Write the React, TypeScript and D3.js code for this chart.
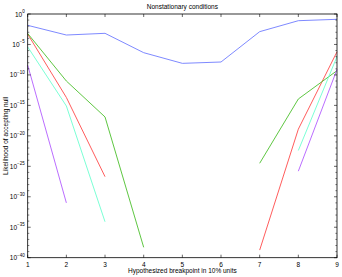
import React from "react";
import * as d3 from "d3";

const xs = [1, 2, 3, 4, 5, 6, 7, 8, 9];
const blue = [-1.86, -3.45, -3.17, -6.35, -8.1, -7.88, -2.9, -1.1, -0.87];
const red = [-3.3, -13.7, -26.7, null, null, null, -38.75, -18.9, -6.2];
const green = [-3.2, -11.0, -16.9, -38.3, null, null, -24.5, -13.95, -9.3];
const cyan = [-5.4, -15.1, -34.1, null, null, null, null, -22.4, -7.0];
const purple = [-8.4, -31.0, null, null, null, null, null, -25.8, -9.1];
const xTicks = [1, 2, 3, 4, 5, 6, 7, 8, 9];
const yTicks = [0, -5, -10, -15, -20, -25, -30, -35, -40];

const series = [
  { v: blue, c: "#6f7cff" },
  { v: red, c: "#ff4a4a" },
  { v: green, c: "#4cbf2c" },
  { v: cyan, c: "#6cffd0" },
  { v: purple, c: "#b25cff" },
];

export default function App() {
  const W = 342, H = 277;
  const L = 27.7, R = 337, T = 14, B = 257.7;
  const x = d3.scaleLinear().domain([1, 9]).range([L, R]);
  const y = d3.scaleLinear().domain([0, -40]).range([T, B]);
  const line = d3
    .line<number | null>()
    .defined((d) => d !== null)
    .x((_, i) => x(xs[i]))
    .y((d) => y(d as number));
  const minor = d3.range(0, -41, -1).filter((d) => d % 5 !== 0);
  const font = "Liberation Sans, Arial, sans-serif";
  return (
    <svg width={W} height={H} style={{ position: "absolute", left: 0, top: 0 }} fontFamily={font}>
      <rect width={W} height={H} fill="#fff" />
      {series.map((s, i) => (
        <path key={i} d={line(s.v) || ""} fill="none" stroke={s.c} strokeWidth={0.9} />
      ))}
      <rect x={L} y={T} width={R - L} height={B - T} fill="none" stroke="#000" strokeWidth={0.8} />
      {xTicks.map((t) => (
        <g key={t}>
          <line x1={x(t)} x2={x(t)} y1={B} y2={B - 3} stroke="#000" strokeWidth={0.6} />
          <line x1={x(t)} x2={x(t)} y1={T} y2={T + 3} stroke="#000" strokeWidth={0.6} />
          <text x={x(t)} y={B + 9} fontSize={6.5} textAnchor="middle">{t}</text>
        </g>
      ))}
      {yTicks.map((t) => (
        <g key={t}>
          <line x1={L} x2={L + 3} y1={y(t)} y2={y(t)} stroke="#000" strokeWidth={0.6} />
          <line x1={R} x2={R - 3} y1={y(t)} y2={y(t)} stroke="#000" strokeWidth={0.6} />
          <text x={L - 3} y={y(t) + 2.5} fontSize={6.5} textAnchor="end">
            10
            <tspan fontSize={4.5} dy={-3.5}>{t === 0 ? "0" : "\u2212" + Math.abs(t)}</tspan>
          </text>
        </g>
      ))}
      {minor.map((t) => (
        <g key={"m" + t}>
          <line x1={L} x2={L + 1.6} y1={y(t)} y2={y(t)} stroke="#000" strokeWidth={0.5} />
          <line x1={R} x2={R - 1.6} y1={y(t)} y2={y(t)} stroke="#000" strokeWidth={0.5} />
        </g>
      ))}
      <text x={(L + R) / 2} y={9} fontSize={6.5} textAnchor="middle">Nonstationary conditions</text>
      <text x={(L + R) / 2} y={273} fontSize={6.5} textAnchor="middle">Hypothesized breakpoint in 10% units</text>
      <text transform={`translate(7.5, ${(T + B) / 2}) rotate(-90)`} fontSize={6.5} textAnchor="middle">
        Likelihood of accepting null
      </text>
    </svg>
  );
}
